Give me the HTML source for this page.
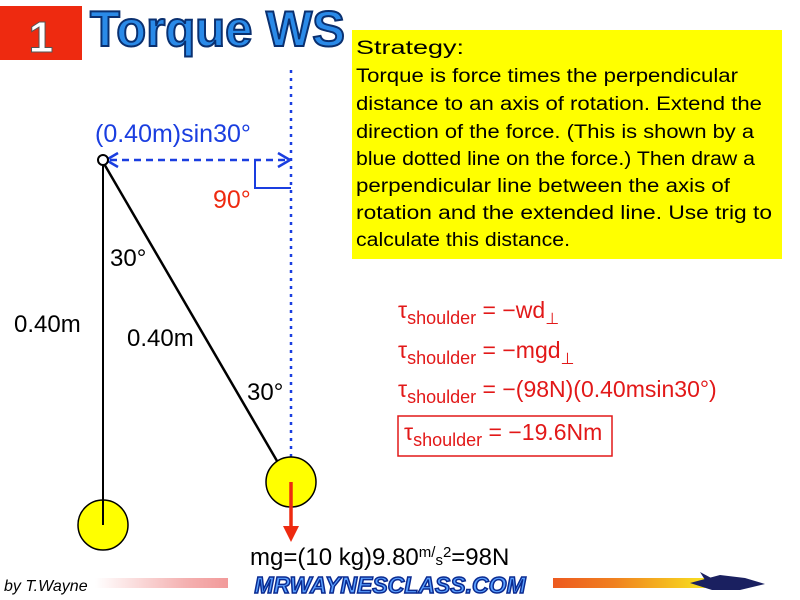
<!DOCTYPE html>
<html><head><meta charset="utf-8"><style>
body{margin:0;background:#fff}
svg{display:block}
text{font-family:"Liberation Sans",sans-serif}
</style></head><body>
<svg width="800" height="600" viewBox="0 0 800 600" xmlns="http://www.w3.org/2000/svg">
<defs>
<linearGradient id="bar" x1="0" x2="1">
<stop offset="0" stop-color="#fff"/><stop offset="0.15" stop-color="#f4b0b0"/><stop offset="0.6" stop-color="#e82020"/><stop offset="0.85" stop-color="#f08020"/><stop offset="1" stop-color="#f8e020"/>
</linearGradient>
</defs>
<rect x="0" y="6" width="82" height="54" fill="#ee2a10"/>
<text x="41" y="52" text-anchor="middle" font-size="44" font-weight="bold" fill="#fff" stroke="#555" stroke-width="1">1</text>
<text x="90" y="46" font-size="50" font-weight="bold" fill="#2a8ae8" stroke="#0a3070" stroke-width="2" textLength="255" lengthAdjust="spacingAndGlyphs">Torque WS</text>
<rect x="352" y="30" width="430" height="229" fill="#ffff00"/>
<g font-size="19" fill="#000">
<text x="356" y="54" textLength="108" lengthAdjust="spacingAndGlyphs">Strategy:</text>
<text x="356" y="82" textLength="382" lengthAdjust="spacingAndGlyphs">Torque is force times the perpendicular</text>
<text x="356" y="110" textLength="406" lengthAdjust="spacingAndGlyphs">distance to an axis of rotation. Extend the</text>
<text x="356" y="138" textLength="398" lengthAdjust="spacingAndGlyphs">direction of the force. (This is shown by a</text>
<text x="356" y="165" textLength="399" lengthAdjust="spacingAndGlyphs">blue dotted line on the force.) Then draw a</text>
<text x="356" y="192" textLength="374" lengthAdjust="spacingAndGlyphs">perpendicular line between the axis of</text>
<text x="356" y="219" textLength="416" lengthAdjust="spacingAndGlyphs">rotation and the extended line.  Use trig to</text>
<text x="356" y="246" textLength="214" lengthAdjust="spacingAndGlyphs">calculate this distance.</text>
</g>
<line x1="291" y1="70" x2="291" y2="485" stroke="#1a3ee0" stroke-width="2.5" stroke-dasharray="3,5"/>
<line x1="110" y1="160" x2="285" y2="160" stroke="#1a3ee0" stroke-width="2.5" stroke-dasharray="7,5"/>
<path d="M118,153 L106,160 L118,167 M278,153 L290,160 L278,167" fill="none" stroke="#1a3ee0" stroke-width="2.5"/>
<path d="M255,160 L255,188 L291,188" fill="none" stroke="#1a3ee0" stroke-width="2"/>
<text x="95" y="142" font-size="25" fill="#1a3ee0">(0.40m)sin30°</text>
<text x="213" y="208" font-size="25" fill="#ee2a10">90°</text>
<line x1="103" y1="162" x2="103" y2="500" stroke="#000" stroke-width="2"/>
<line x1="103" y1="162" x2="291" y2="485" stroke="#000" stroke-width="2.5"/>
<circle cx="103" cy="160" r="5" fill="#fff" stroke="#000" stroke-width="2"/>
<circle cx="103" cy="525" r="25" fill="#ffff00" stroke="#000" stroke-width="1.5"/>
<circle cx="291" cy="482" r="25" fill="#ffff00" stroke="#000" stroke-width="1.5"/>
<line x1="103" y1="500" x2="103" y2="525" stroke="#000" stroke-width="2"/>
<line x1="291" y1="482" x2="291" y2="528" stroke="#ee2a10" stroke-width="3.5"/>
<path d="M283,526 L299,526 L291,542 Z" fill="#ee2a10"/>
<g font-size="24" fill="#000">
<text x="110" y="266">30°</text>
<text x="14" y="332">0.40m</text>
<text x="127" y="346">0.40m</text>
<text x="247" y="400">30°</text>
<text x="250" y="565">mg=(10 kg)9.80<tspan font-size="15" dy="-8">m</tspan><tspan font-size="15" dy="0">/</tspan><tspan font-size="15" dy="8">s</tspan><tspan font-size="15" dy="-8">2</tspan><tspan dy="8">=98N</tspan></text>
</g>
<g fill="#e21818" font-size="23">
<text x="398" y="318">τ<tspan font-size="18" dy="6">shoulder</tspan><tspan dy="-6"> = −wd</tspan><tspan font-size="16" dy="6">⊥</tspan></text>
<text x="398" y="358">τ<tspan font-size="18" dy="6">shoulder</tspan><tspan dy="-6"> = −mgd</tspan><tspan font-size="16" dy="6">⊥</tspan></text>
<text x="398" y="397">τ<tspan font-size="18" dy="6">shoulder</tspan><tspan dy="-6"> = −(98N)(0.40msin30°)</tspan></text>
<text x="404" y="440">τ<tspan font-size="18" dy="6">shoulder</tspan><tspan dy="-6"> = −19.6Nm</tspan></text>
</g>
<rect x="398" y="416" width="214" height="40" fill="none" stroke="#e21818" stroke-width="1.5"/>
<rect x="95" y="578" width="610" height="10" fill="url(#bar)"/>
<text x="4" y="591" font-size="16" font-style="italic" fill="#000">by T.Wayne</text>
<rect x="228" y="573" width="325" height="24" fill="#fff"/>
<text x="390" y="593" text-anchor="middle" font-size="23" font-weight="bold" font-style="italic" fill="#5aa0ff" stroke="#0a2a90" stroke-width="1.5">MRWAYNESCLASS.COM</text>
<path d="M690,583 L720,575 L745,578 L765,584 L740,590 L712,590 Z" fill="#1a2060"/>
<path d="M700,572 L715,580 L705,580 Z" fill="#1a2060"/>
</svg>
</body></html>
